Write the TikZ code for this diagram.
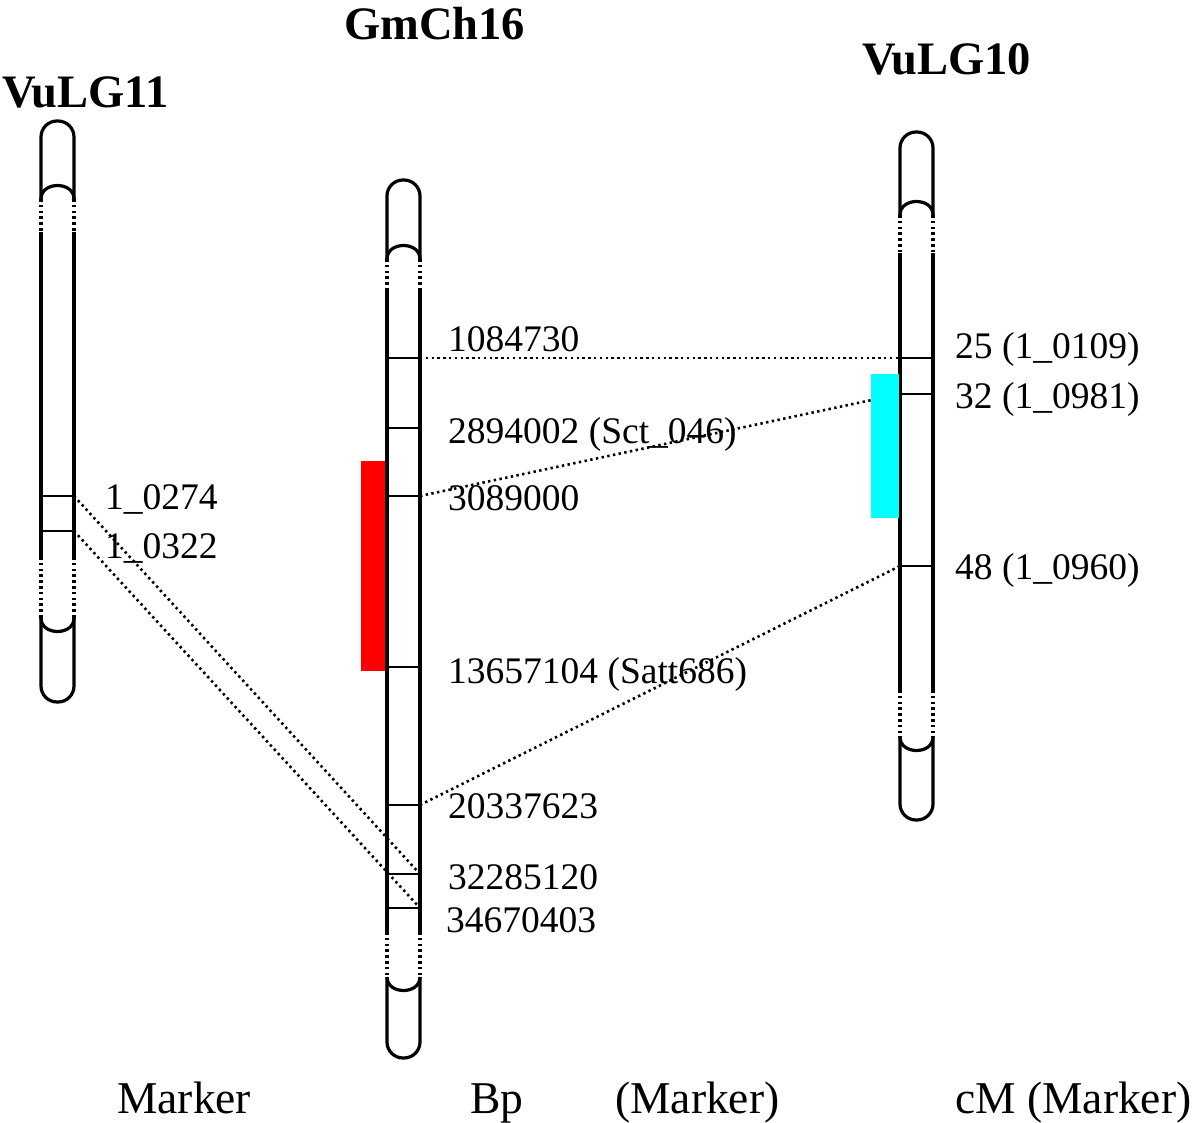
\documentclass[tikz,border=0pt]{standalone}
\usepackage{fontspec}
\setmainfont{Liberation Serif}
\definecolor{cy}{RGB}{0,255,255}
\definecolor{rd}{RGB}{255,0,0}
\begin{document}
\begin{tikzpicture}[x=1pt,y=-1pt,
  chr/.style={line width=3.2pt},
  chrdot/.style={line width=3.2pt,dash pattern=on 2.6pt off 3.2pt},
  mk/.style={line width=2.8pt},
  conn/.style={line width=2.6pt,dash pattern=on 2.4pt off 3.4pt},
  lab/.style={anchor=base west,inner sep=0pt,font=\fontsize{37.5}{40}\selectfont},
  ttl/.style={anchor=base west,inner sep=0pt,font=\fontsize{46.5}{48}\selectfont\bfseries},
  foot/.style={anchor=base west,inner sep=0pt,font=\fontsize{45.5}{48}\selectfont}]
\useasboundingbox (0,0) rectangle (1200,1123);

% chromosome macro: L R top capend dotend solidend dot2end bottom
\newcommand\drawchrom[8]{%
  \draw[chr,rounded corners=16pt] (#1,#4) -- (#1,#3) -- (#2,#3) -- (#2,#4);
  \draw[chr] (#1,#4) .. controls (#1,#4-18) and (#2,#4-18) .. (#2,#4);
  \draw[chrdot] (#1,#4) -- (#1,#5);
  \draw[chrdot] (#2,#4) -- (#2,#5);
  \draw[chr] (#1,#5) -- (#1,#6);
  \draw[chr] (#2,#5) -- (#2,#6);
  \draw[chrdot] (#1,#6) -- (#1,#7);
  \draw[chrdot] (#2,#6) -- (#2,#7);
  \draw[chr,rounded corners=16pt] (#1,#7) -- (#1,#8) -- (#2,#8) -- (#2,#7);
  \draw[chr] (#1,#7) .. controls (#1,#7+18) and (#2,#7+18) .. (#2,#7);
}

% highlight blocks
\fill[rd] (361,461) rectangle (388,671);

% chromosomes
\drawchrom{41}{74}{121}{199}{232}{557}{618}{702}
\drawchrom{387}{420}{180}{259}{288}{932}{977}{1058}
\drawchrom{900}{933}{132}{215}{253}{690}{737}{820}

% marker coordinates
\coordinate (a1w) at (41,496);  \coordinate (a1e) at (74,496);
\coordinate (a2w) at (41,531);  \coordinate (a2e) at (74,531);
\coordinate (b1w) at (387,358); \coordinate (b1e) at (420,358);
\coordinate (b2w) at (387,428); \coordinate (b2e) at (420,428);
\coordinate (b3w) at (387,496); \coordinate (b3e) at (420,496);
\coordinate (b4w) at (387,667); \coordinate (b4e) at (420,667);
\coordinate (b5w) at (387,805); \coordinate (b5e) at (420,805);
\coordinate (b6w) at (387,874); \coordinate (b6e) at (420,874);
\coordinate (b7w) at (387,908); \coordinate (b7e) at (420,908);
\coordinate (c1w) at (900,358); \coordinate (c1e) at (933,358);
\coordinate (c2w) at (900,394); \coordinate (c2e) at (933,394);
\coordinate (c3w) at (900,566); \coordinate (c3e) at (933,566);

\foreach \m in {a1,a2,b1,b2,b3,b4,b5,b6,b7,c1,c2,c3}
  \draw[mk] (\m w) -- (\m e);

% connectors
\draw[conn] (b1e) -- (c1w);
\draw[conn] (b3e) -- (c2w);
\draw[conn] (b5e) -- (c3w);
\draw[conn] (a1e) -- (b6e);
\draw[conn] (a2e) -- (b7e);

\fill[cy] (871,374) rectangle (899,518);

% titles
\node[ttl] (t1) at (2,108) {VuLG11};
\node[ttl] (t2) at (344,40) {GmCh16};
\node[ttl] (t3) at (862,75) {VuLG10};

% labels
\node[lab] (la1) at (105,509) {1\_0274};
\node[lab] (la2) at (105,558) {1\_0322};
\node[lab] (lb1) at (448,352) {1084730};
\node[lab] (lb2) at (448,443) {2894002 (Sct\_046)};
\node[lab] (lb3) at (448,510) {3089000};
\node[lab] (lb4) at (448,683) {13657104 (Satt686)};
\node[lab] (lb5) at (448,818) {20337623};
\node[lab] (lb6) at (448,889) {32285120};
\node[lab] (lb7) at (446,932) {34670403};
\node[lab] (lc1) at (955,359) {25 (1\_0109)};
\node[lab] (lc2) at (955,409) {32 (1\_0981)};
\node[lab] (lc3) at (955,579) {48 (1\_0960)};

% footer
\node[foot] (f1) at (117,1113) {Marker};
\node[foot] (f2) at (470,1113) {Bp};
\node[foot] (f3) at (615,1113) {(Marker)};
\node[foot] (f4) at (955,1113) {cM (Marker)};
\end{tikzpicture}
\end{document}
